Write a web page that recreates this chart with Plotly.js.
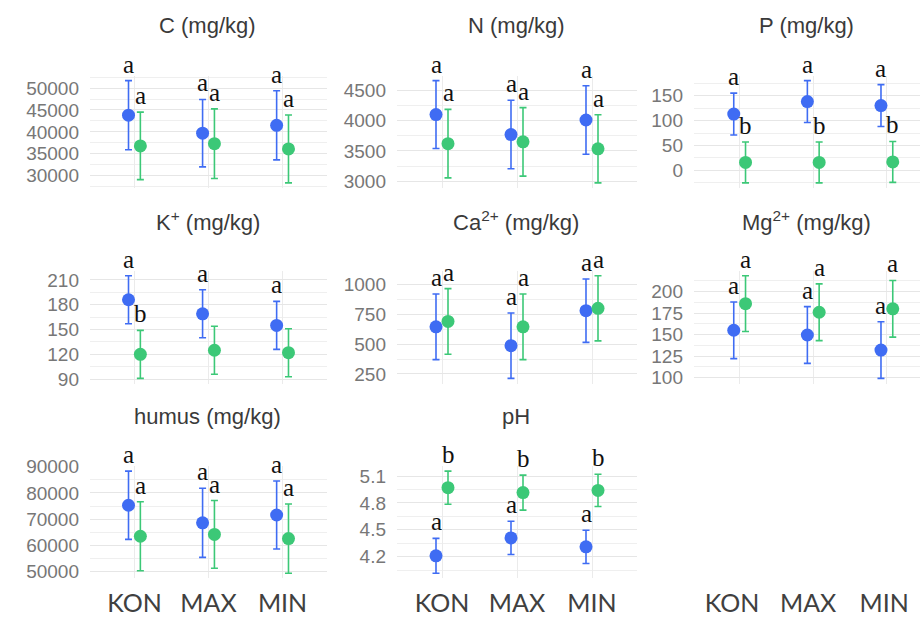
<!DOCTYPE html>
<html>
<head>
<meta charset="utf-8">
<script src="https://cdn.plot.ly/plotly-3.0.1.min.js"></script>
<style>
  html, body { margin: 0; padding: 0; background: #ffffff; }
  #chart { width: 920px; height: 617px; }
</style>
</head>
<body>
<div id="chart"></div>
<script>
// Treatment groups on the x axis
const groups = ['KON', 'MAX', 'MIN'];

// Panel titles
const titles = ['C (mg/kg)', 'N (mg/kg)', 'P (mg/kg)',
                'K<sup>+</sup> (mg/kg)', 'Ca<sup>2+</sup> (mg/kg)', 'Mg<sup>2+</sup> (mg/kg)',
                'humus (mg/kg)', 'pH'];

// Means and error half-widths: first series (blue), second series (green)
const cBlue = [43800, 39700, 41500],   cBlueErr = [7900, 7700, 7900];
const cGreen = [36800, 37300, 36100],  cGreenErr = [7700, 7950, 7750];

const nBlue = [4100, 3770, 4010],      nBlueErr = [560, 565, 565];
const nGreen = [3620, 3650, 3535],     nGreenErr = [565, 565, 562];

const pBlue = [113, 138, 130],         pBlueErr = [42, 42, 42];
const pGreen = [16, 16, 17],           pGreenErr = [41, 41, 41];

const kBlue = [186, 169, 155],         kBlueErr = [29, 29, 29];
const kGreen = [120, 125, 122],        kGreenErr = [29, 29, 29];

const caBlue = [645, 487, 780],        caBlueErr = [275, 274, 265];
const caGreen = [690, 645, 800],       caGreenErr = [275, 275, 273];

const mgBlue = [155, 149.5, 132],      mgBlueErr = [33, 33, 33];
const mgGreen = [186, 176, 180],       mgGreenErr = [32.5, 33, 33];

const humusBlue = [75300, 68600, 71600],  humusBlueErr = [13000, 13150, 12950];
const humusGreen = [63500, 64200, 62600], humusGreenErr = [13150, 12900, 13200];

const phBlue = [4.21, 4.41, 4.31],     phBlueErr = [0.195, 0.185, 0.185];
const phGreen = [4.97, 4.915, 4.94],   phGreenErr = [0.185, 0.195, 0.18];

// Significance letters above each error bar ('' = none)
const lettersBlue = [
  ['a', 'a', 'a'], ['a', 'a', 'a'], ['a', 'a', 'a'],
  ['a', 'a', 'a'], ['a', 'a', 'a'], ['a', 'a', 'a'],
  ['a', 'a', 'a'], ['a', 'a', 'a']
];
const lettersGreen = [
  ['a', 'a', 'a'], ['a', 'a', 'a'], ['b', 'b', 'b'],
  ['b', '', ''],   ['a', 'a', 'a'], ['a', 'a', 'a'],
  ['a', 'a', 'a'], ['b', 'b', 'b']
];

const panelData = [
  [cBlue, cBlueErr, cGreen, cGreenErr],
  [nBlue, nBlueErr, nGreen, nGreenErr],
  [pBlue, pBlueErr, pGreen, pGreenErr],
  [kBlue, kBlueErr, kGreen, kGreenErr],
  [caBlue, caBlueErr, caGreen, caGreenErr],
  [mgBlue, mgBlueErr, mgGreen, mgGreenErr],
  [humusBlue, humusBlueErr, humusGreen, humusGreenErr],
  [phBlue, phBlueErr, phGreen, phGreenErr]
];

// Tick spacing (major, minor) for each panel
const tickSteps = [[5000, 2500], [500, 250], [50, 25],
                   [30, 15], [250, 125], [25, 12.5],
                   [10000, 5000], [0.3, 0.15]];

// ---- layout geometry (pixels) ----
const W = 920, H = 617;
const rows = [[75.5, 188], [270.6, 383.5], [466, 578.4]];
const cols = [[90, 327], [397, 637], [694, 920]];
const colRanges = [[-0.6, 2.6], [-0.6, 2.6], [-0.62, 2.45]];
const dodge = 0.08;

const BLUE = '#3f6cf3';
const GREEN = '#3cc877';
const tickFont = { family: 'Liberation Sans, Arial, sans-serif', size: 19, color: '#777777' };
const titleFont = { family: 'Liberation Sans, Arial, sans-serif', size: 22, color: '#3a3a3a' };
const groupFont = { family: 'Lato, Open Sans, sans-serif', size: 25, color: '#404040' };
const letterFont = { family: 'Liberation Serif, Times New Roman, serif', size: 25, color: '#111111' };

const px2x = p => p / W;
const px2y = p => 1 - p / H;
const idx = groups.map((g, i) => i);

const traces = [];
const annotations = [];
const layout = {
  width: W, height: H,
  margin: { l: 0, r: 0, t: 0, b: 0 },
  paper_bgcolor: '#ffffff',
  plot_bgcolor: '#ffffff',
  showlegend: false,
  annotations: annotations
};

panelData.forEach((pd, i) => {
  const row = Math.floor(i / 3), col = i % 3;
  const n = i === 0 ? '' : String(i + 1);
  const xa = 'x' + n, ya = 'y' + n;
  const [bMean, bErr, gMean, gErr] = pd;

  // ggplot-like 5% expansion of the data extent (means ± error)
  const lows = bMean.map((v, k) => v - bErr[k]).concat(gMean.map((v, k) => v - gErr[k]));
  const highs = bMean.map((v, k) => v + bErr[k]).concat(gMean.map((v, k) => v + gErr[k]));
  const lo = Math.min(...lows), hi = Math.max(...highs);
  const pad = (hi - lo) * 0.05;

  const series = [[bMean, bErr, -dodge, BLUE, lettersBlue[i], 'first'],
                  [gMean, gErr, dodge, GREEN, lettersGreen[i], 'second']];
  series.forEach(([mean, err, off, color, letters, name]) => {
    const xs = idx.map(k => k + off);
    traces.push({
      type: 'scatter', mode: 'markers', name: name,
      x: xs, y: mean,
      xaxis: xa, yaxis: ya,
      marker: { color: color, size: 13 },
      error_y: { type: 'data', array: err, visible: true, color: color, thickness: 1.6, width: 3.5 },
      hoverinfo: 'x+y'
    });
    letters.forEach((t, k) => {
      if (!t) return;
      annotations.push({
        xref: xa, yref: ya, x: xs[k], y: mean[k] + err[k],
        text: t, showarrow: false, xanchor: 'center', yanchor: 'bottom',
        yshift: 1, font: letterFont
      });
    });
  });

  const lastRow = row === 2;
  layout['xaxis' + n] = {
    domain: [px2x(cols[col][0]), px2x(cols[col][1])],
    anchor: ya,
    range: colRanges[col],
    tickmode: 'array', tickvals: idx, ticktext: groups,
    showticklabels: lastRow, tickfont: groupFont, ticks: '',
    ticklabelstandoff: 8,
    showgrid: true, gridcolor: '#ebebeb', gridwidth: 1,
    zeroline: false, showline: false, fixedrange: true
  };
  layout['yaxis' + n] = {
    domain: [px2y(rows[row][1]), px2y(rows[row][0])],
    anchor: xa,
    range: [lo - pad, hi + pad],
    tick0: 0, dtick: tickSteps[i][0],
    tickformat: i === 7 ? '.1f' : 'd',
    tickfont: tickFont, ticks: '', ticklabelstandoff: 10,
    showgrid: true, gridcolor: '#e6e6e6', gridwidth: 1,
    minor: { dtick: tickSteps[i][1], showgrid: true, gridcolor: '#efefef', gridwidth: 1, ticks: '' },
    zeroline: false, showline: false, fixedrange: true
  };

  // panel title, centred over the plotting area
  annotations.push({
    xref: 'paper', yref: 'paper',
    x: px2x((cols[col][0] + cols[col][1]) / 2 - 1),
    y: px2y(rows[row][0] - 50),
    text: titles[i], showarrow: false, xanchor: 'center', yanchor: 'middle',
    font: titleFont
  });
});

// group labels under the empty third column of the last row
layout.xaxis9 = {
  domain: [px2x(cols[2][0]), px2x(cols[2][1])],
  anchor: 'y9', range: [-0.5, 2.47],
  tickmode: 'array', tickvals: idx, ticktext: groups,
  tickfont: groupFont, ticks: '', ticklabelstandoff: 8,
  showgrid: false, zeroline: false, showline: false, fixedrange: true
};
layout.yaxis9 = {
  domain: [px2y(rows[2][1]), px2y(rows[2][0])],
  anchor: 'x9', range: [0, 1],
  visible: false, showgrid: false, zeroline: false, fixedrange: true
};
traces.push({ type: 'scatter', mode: 'markers', x: [], y: [], xaxis: 'x9', yaxis: 'y9', hoverinfo: 'skip' });

Plotly.newPlot('chart', traces, layout, { displayModeBar: false, staticPlot: true });
</script>
</body>
</html>
